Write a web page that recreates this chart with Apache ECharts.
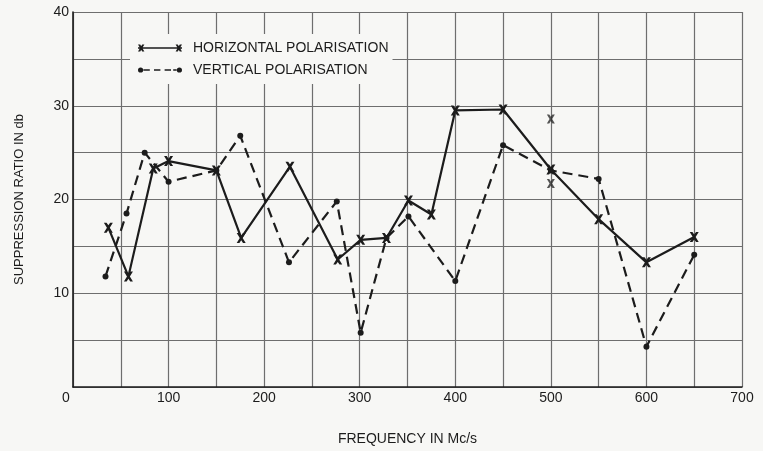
<!DOCTYPE html>
<html>
<head>
<meta charset="utf-8">
<script src="https://cdn.jsdelivr.net/npm/echarts@6/dist/echarts.min.js"></script>
<style>
  html, body { margin: 0; padding: 0; background: #f7f7f5; }
  #chart { width: 763px; height: 451px; }
</style>
</head>
<body>
<div id="chart"></div>
<script>
// Frequency (Mc/s) and suppression ratio (db) readings
const horizFreq = [37, 58, 84, 100, 150, 176, 227, 277, 301, 328, 351, 375, 400, 450, 500, 550, 600, 650];
const horizRatio = [17.0, 11.8, 23.3, 24.1, 23.1, 15.9, 23.5, 13.6, 15.7, 15.9, 19.9, 18.4, 29.5, 29.6, 23.2, 17.9, 13.3, 16.0];

const vertFreq = [34, 56, 75, 100, 150, 175, 226, 276, 301, 328, 351, 400, 450, 500, 550, 600, 650];
const vertRatio = [11.8, 18.5, 25.0, 21.9, 23.1, 26.8, 13.3, 19.8, 5.8, 15.9, 18.2, 11.3, 25.8, 23.1, 22.2, 4.3, 14.1];

// Separate horizontal-polarisation readings at 500 Mc/s
const extraFreq = [500, 500];
const extraRatio = [28.6, 21.7];

const xTickLabels = [0, 100, 200, 300, 400, 500, 600, 700];
const yTickLabels = [10, 20, 30, 40];

const seriesNames = ['HORIZONTAL POLARISATION', 'VERTICAL POLARISATION'];

const pairs = (xs, ys) => xs.map((x, i) => [x, ys[i]]);

const INK = '#1c1c1c';
const GRID = '#6e6e6e';
const FONT = 'Liberation Sans';

const crossSymbol = 'path://M0 0 L3 0 L5 2.6 L7 0 L10 0 L6.6 5 L10 10 L7 10 L5 7.4 L3 10 L0 10 L3.4 5 Z';

const crossLegendIcon = 'path://' +
  'M0 42 L440 42 L440 58 L0 58 Z ' +
  'M0 15 L22 15 L64 85 L42 85 Z M42 15 L64 15 L22 85 L0 85 Z ' +
  'M376 15 L398 15 L440 85 L418 85 Z M418 15 L440 15 L398 85 L376 85 Z';

const dotLegendIcon = 'path://' +
  'M0 50 A26 26 0 1 1 52 50 A26 26 0 1 1 0 50 Z ' +
  'M388 50 A26 26 0 1 1 440 50 A26 26 0 1 1 388 50 Z ' +
  'M54 42 L118 42 L118 58 L54 58 Z ' +
  'M160 42 L224 42 L224 58 L160 58 Z ' +
  'M266 42 L330 42 L330 58 L266 58 Z ' +
  'M352 42 L386 42 L386 58 L352 58 Z';

const chart = echarts.init(document.getElementById('chart'), null, { renderer: 'canvas' });

chart.setOption({
  backgroundColor: '#f7f7f5',
  animation: false,
  textStyle: { fontFamily: FONT, color: INK },
  grid: { left: 73, right: 21, top: 12, bottom: 59, containLabel: false },
  legend: {
    data: [
      { name: seriesNames[0], icon: crossLegendIcon },
      { name: seriesNames[1], icon: dotLegendIcon }
    ],
    orient: 'vertical',
    left: 130,
    top: 34,
    padding: [7, 4, 7, 8],
    backgroundColor: '#f7f7f5',
    itemWidth: 44,
    itemHeight: 10,
    itemGap: 8,
    selectedMode: false,
    itemStyle: { borderWidth: 0 },
    textStyle: { fontFamily: FONT, fontSize: 14, color: INK, lineHeight: 14, padding: [0, 0, 0, 6] }
  },
  xAxis: {
    type: 'value',
    min: 0,
    max: 700,
    interval: 50,
    name: 'FREQUENCY IN Mc/s',
    nameLocation: 'middle',
    nameGap: 45,
    nameTextStyle: { fontFamily: FONT, fontSize: 14, color: INK },
    axisLine: { show: true, lineStyle: { color: INK, width: 1.6 } },
    axisTick: { show: false },
    axisLabel: {
      margin: 4,
      fontSize: 14,
      color: INK,
      fontFamily: FONT,
      formatter: v => {
        if (!xTickLabels.includes(v)) return '';
        return v === 0 ? '{z|0}' : String(v);
      },
      rich: { z: { fontSize: 14, fontFamily: FONT, color: INK, padding: [0, 14, 0, 0] } }
    },
    splitLine: { show: true, lineStyle: { color: GRID, width: 1.2 } }
  },
  yAxis: {
    type: 'value',
    min: 0,
    max: 40,
    interval: 5,
    name: 'SUPPRESSION RATIO IN db',
    nameLocation: 'middle',
    nameGap: 47,
    nameRotate: 90,
    nameTextStyle: { fontFamily: FONT, fontSize: 13, color: INK },
    axisLine: { show: true, lineStyle: { color: INK, width: 1.6 } },
    axisTick: { show: false },
    axisLabel: {
      margin: 4,
      fontSize: 14,
      color: INK,
      fontFamily: FONT,
      formatter: v => (yTickLabels.includes(v) ? String(v) : '')
    },
    splitLine: { show: true, lineStyle: { color: GRID, width: 1.2 } }
  },
  series: [
    {
      name: seriesNames[0],
      type: 'line',
      data: pairs(horizFreq, horizRatio),
      symbol: crossSymbol,
      symbolSize: [9, 10],
      color: INK,
      lineStyle: { color: INK, width: 2.2 },
      itemStyle: { color: INK },
      z: 3
    },
    {
      name: seriesNames[1],
      type: 'line',
      data: pairs(vertFreq, vertRatio),
      symbol: 'circle',
      symbolSize: 6,
      color: INK,
      lineStyle: { color: INK, width: 2.2, type: [10, 6] },
      itemStyle: { color: INK },
      z: 3
    },
    {
      name: 'extra',
      type: 'scatter',
      data: pairs(extraFreq, extraRatio),
      symbol: crossSymbol,
      symbolSize: [8, 9],
      itemStyle: { color: '#2a2a2a' },
      z: 3
    }
  ]
});
</script>
</body>
</html>
